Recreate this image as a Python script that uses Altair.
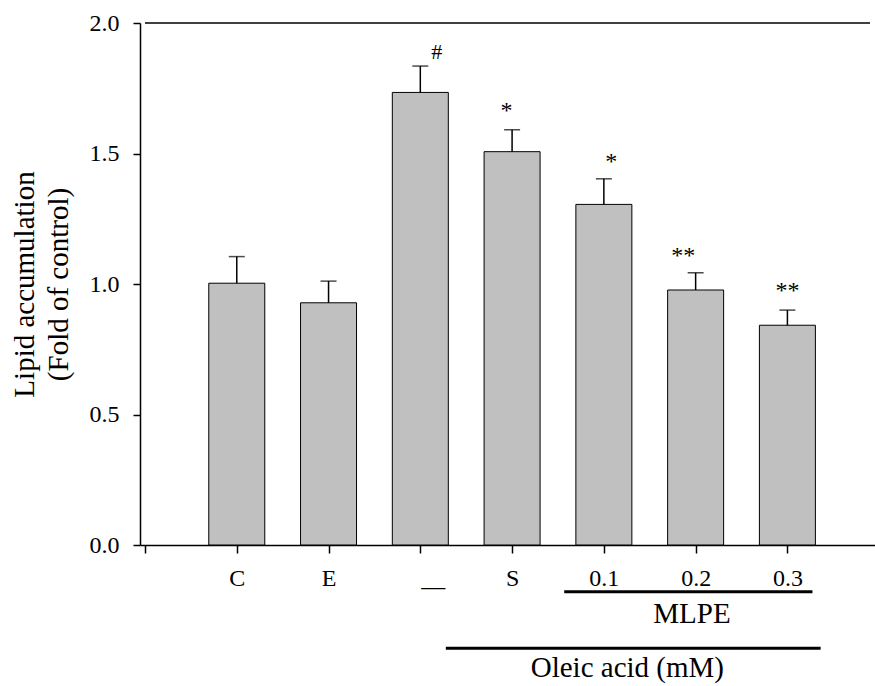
import altair as alt
import pandas as pd

# ---- data ----
categories = ["C", "E", "__", "S", "0.1", "0.2", "0.3"]
positions = [1, 2, 3, 4, 5, 6, 7]
means = [1.003, 0.928, 1.734, 1.507, 1.305, 0.977, 0.842]
errors = [0.102, 0.083, 0.101, 0.084, 0.098, 0.066, 0.058]

sig_labels = ["#", "*", "*", "**", "**"]
sig_sizes = [22, 24, 24, 24, 24]
sig_x = [3.18, 3.94, 5.08, 5.865, 7.0]
sig_y = [1.862, 1.636, 1.439, 1.080, 0.946]

group_names = ["MLPE", "Oleic acid (mM)"]
group_text_x = [5.96, 5.256]
group_text_y = [-0.298, -0.505]
group_line_x1 = [4.568, 3.278]
group_line_x2 = [7.273, 7.362]
group_line_y = [-0.179, -0.396]

FONT = "Liberation Serif"
XMAX = 7.9

bars_df = pd.DataFrame({
    "pos": positions,
    "cat": categories,
    "mean": means,
    "top": [m + e for m, e in zip(means, errors)],
})
sig_df = pd.DataFrame({"x": sig_x, "y": sig_y, "label": sig_labels, "fs": sig_sizes})
grp_text_df = pd.DataFrame({"x": group_text_x, "y": group_text_y, "label": group_names})
grp_line_df = pd.DataFrame({"x1": group_line_x1, "x2": group_line_x2, "y": group_line_y})
dash_df = pd.DataFrame({"x": [3.14], "y": [-0.159], "label": ["__"]})

xscale = alt.Scale(domain=[0, XMAX], nice=False, zero=False)
yscale = alt.Scale(domain=[0, 2], nice=False)

label_arr = "[''," + ",".join("'" + ("" if c == "__" else c) + "'" for c in categories) + "]"

x_axis = alt.Axis(
    values=[0] + positions,
    labelExpr=label_arr + "[datum.value]",
    title=None,
    tickSize=8,
    labelPadding=13,
    labelFontSize=24,
)
y_axis = alt.Axis(
    values=[0, 0.5, 1.0, 1.5, 2.0],
    format=".1f",
    title=["Lipid accumulation", "(Fold of control)"],
    titleFontSize=29,
    titleFont=FONT,
    titleFontWeight="normal",
    titleColor="black",
    titleAngle=270,
    titleAlign="center",
    titleBaseline="alphabetic",
    titleLineHeight=34,
    titleX=-107,
    titleY=261,
    tickSize=7,
    labelPadding=14,
    labelFontSize=24,
)

base = alt.Chart(bars_df)

bars = base.mark_bar(size=56, color="#c0c0c0", stroke="black", strokeWidth=1).encode(
    x=alt.X("pos:Q", scale=xscale, axis=x_axis),
    y=alt.Y("mean:Q", scale=yscale, axis=y_axis),
)
err = base.mark_rule(color="black", strokeWidth=1.5).encode(
    x=alt.X("pos:Q", scale=xscale),
    y=alt.Y("mean:Q", scale=yscale),
    y2="top:Q",
)
caps = base.mark_tick(orient="horizontal", size=16, thickness=1.5, color="black").encode(
    x=alt.X("pos:Q", scale=xscale),
    y=alt.Y("top:Q", scale=yscale),
)
sig = alt.Chart(sig_df).mark_text(font=FONT, color="black", baseline="alphabetic").encode(
    x=alt.X("x:Q", scale=xscale),
    y=alt.Y("y:Q", scale=yscale),
    text="label:N",
    size=alt.Size("fs:Q", scale=None, legend=None),
)
top_line = alt.Chart(pd.DataFrame({"x1": [0], "x2": [XMAX], "y": [2.0]})).mark_rule(
    color="black", strokeWidth=1.5
).encode(
    x=alt.X("x1:Q", scale=xscale),
    x2="x2:Q",
    y=alt.Y("y:Q", scale=yscale),
)
grp_lines = alt.Chart(grp_line_df).mark_rule(color="black", strokeWidth=3).encode(
    x=alt.X("x1:Q", scale=xscale),
    x2="x2:Q",
    y=alt.Y("y:Q", scale=yscale),
)
grp_text = alt.Chart(grp_text_df).mark_text(font=FONT, fontSize=29, color="black", baseline="alphabetic").encode(
    x=alt.X("x:Q", scale=xscale),
    y=alt.Y("y:Q", scale=yscale),
    text="label:N",
)
dash = alt.Chart(dash_df).mark_text(font=FONT, fontSize=24, color="black", baseline="alphabetic").encode(
    x=alt.X("x:Q", scale=xscale),
    y=alt.Y("y:Q", scale=yscale),
    text="label:N",
)

chart = (
    alt.layer(bars, err, caps, sig, top_line, grp_lines, grp_text, dash)
    .properties(
        width=735,
        height=522,
        autosize=alt.AutoSizeParams(type="none"),
        padding={"left": 140, "top": 23, "right": 0, "bottom": 141},
        background="white",
    )
    .configure_view(stroke=None)
    .configure_axis(
        domainColor="black",
        domainWidth=1.5,
        tickColor="black",
        tickWidth=1.5,
        labelColor="black",
        labelFont=FONT,
        grid=False,
    )
)

chart.save("out.html", embed_options={"renderer": "svg", "actions": False})
